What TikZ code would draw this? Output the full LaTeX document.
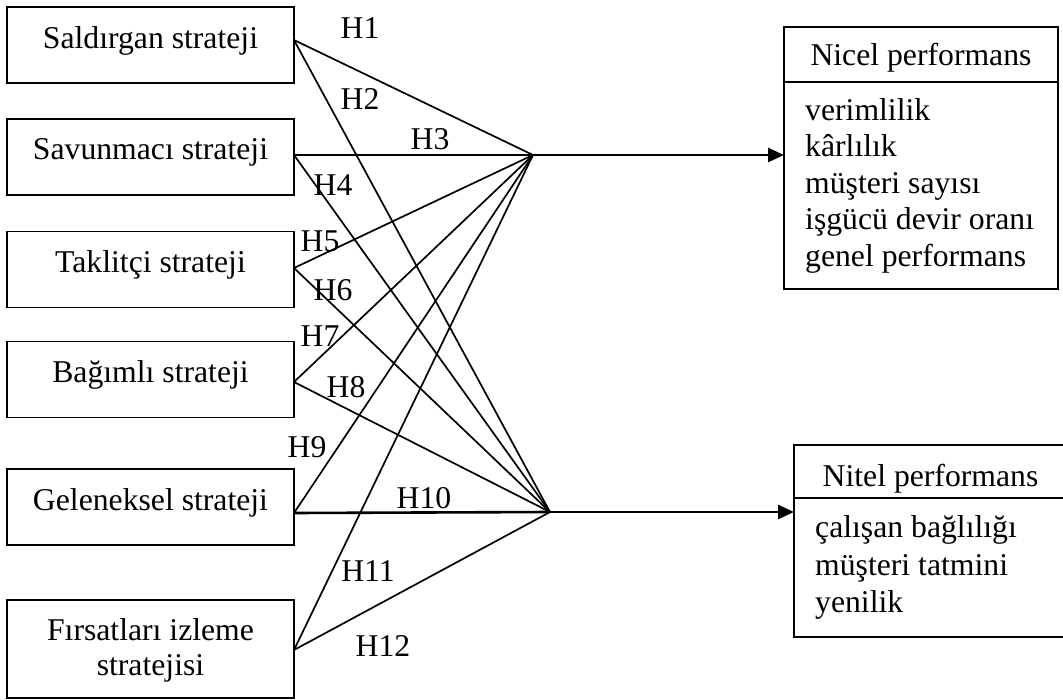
\documentclass[tikz,border=0pt]{standalone}
\usepackage{fontspec}
\setmainfont{Liberation Serif}
\usetikzlibrary{calc,arrows.meta}
\begin{document}
\begin{tikzpicture}[x=1pt,y=-1pt,
  box/.style={draw, line width=1.7pt, minimum width=287pt, minimum height=76pt, inner sep=0pt, outer sep=0pt},
  pbox/.style={draw, line width=1.7pt, inner sep=0pt, outer sep=0pt},
  txt/.style={font=\fontsize{31.7}{36}\selectfont, inner sep=0pt, anchor=base},
  ltxt/.style={font=\fontsize{31.7}{36}\selectfont, inner sep=0pt, anchor=base west},
  hl/.style={font=\fontsize{31.7}{36}\selectfont, inner sep=0pt},
  link/.style={line width=1.7pt},
  hlink/.style={line width=2.6pt},
  arr/.style={line width=2.6pt, -{Triangle[length=16pt,width=14pt]}}
]
\useasboundingbox (0,0) rectangle (1063,699);

% left boxes
\node[box] (s1) at (150.5,45) {};
\node[box] (s2) at (150.5,157) {};
\node[box] (s3) at (150.5,269.5) {};
\node[box] (s4) at (150.5,379.5) {};
\node[box] (s5) at (150.5,507) {};
\node[box, minimum height=98pt] (s6) at (150.5,649) {};

\node[txt] (t1) at (150.5,48) {Saldırgan strateji};
\node[txt] (t2) at (150.5,159) {Savunmacı strateji};
\node[txt] (t3) at (150.5,272) {Taklitçi strateji};
\node[txt] (t4) at (150.5,382) {Bağımlı strateji};
\node[txt] (t5) at (150.5,510) {Geleneksel strateji};
\node[txt] (t6a) at (150.5,640) {Fırsatları izleme};
\node[txt] (t6b) at (150.5,675) {stratejisi};

% right boxes
\node[pbox, minimum width=274pt, minimum height=262pt] (nicel) at (921,158) {};
\draw[line width=1.7pt] (nicel.west |- 0,82) -- (nicel.east |- 0,82);
\node[txt] (nh) at (921,65) {Nicel performans};
\node[ltxt] (n1) at (805,120) {verimlilik};
\node[ltxt] (n2) at (805,156.5) {kârlılık};
\node[ltxt] (n3) at (805,193) {müşteri sayısı};
\node[ltxt] (n4) at (805,229.5) {işgücü devir oranı};
\node[ltxt] (n5) at (805,266) {genel performans};

\node[pbox, minimum width=271pt, minimum height=192pt] (nitel) at (929.5,541) {};
\draw[line width=1.7pt] (nitel.west |- 0,498) -- (nitel.east |- 0,498);
\node[txt] (qh) at (930.5,486) {Nitel performans};
\node[ltxt] (q1) at (815,537.5) {çalışan bağlılığı};
\node[ltxt] (q2) at (815,575) {müşteri tatmini};
\node[ltxt] (q3) at (815,612.5) {yenilik};

% connection points
\coordinate (o1) at ($(s1.east)+(0,-5)$);
\coordinate (o2) at ($(s2.east)+(0,-2)$);
\coordinate (o3) at ($(s3.east)+(0,-1.5)$);
\coordinate (o4) at ($(s4.east)+(0,2.5)$);
\coordinate (o5) at ($(s5.east)+(0,6)$);
\coordinate (o6) at ($(s6.east)+(0,1)$);
\coordinate (h1) at (533,155);
\coordinate (h2) at (550,512);

\draw[link] (o1) -- (h1);
\draw[link] (o1) -- (h2);
\draw[hlink] (o2) -- (h1);
\draw[link] (o2) -- (h2);
\draw[link] (o3) -- (h1);
\draw[link] (o3) -- (h2);
\draw[link] (o4) -- (h1);
\draw[link] (o4) -- (h2);
\draw[link] (o5) -- (h1);
\draw[hlink] (o5) -- (h2);
\draw[link] (o6) -- (h1);
\draw[link] (o6) -- (h2);

\draw[arr] (h1) -- (h1 -| nicel.west);
\draw[arr] (h2) -- (h2 -| nitel.west);

% hypothesis labels
\node[hl] (H1) at (360,28) {H1};
\node[hl] (H2) at (360,99) {H2};
\node[hl] (H3) at (430,139) {H3};
\node[hl] (H4) at (333,185) {H4};
\node[hl] (H5) at (320,241) {H5};
\node[hl] (H6) at (333,290) {H6};
\node[hl] (H7) at (320,336) {H7};
\node[hl] (H8) at (346,387) {H8};
\node[hl] (H9) at (307,447) {H9};
\node[hl] (H10) at (424,498) {H10};
\node[hl] (H11) at (368,571) {H11};
\node[hl] (H12) at (383,646) {H12};
\end{tikzpicture}
\end{document}
